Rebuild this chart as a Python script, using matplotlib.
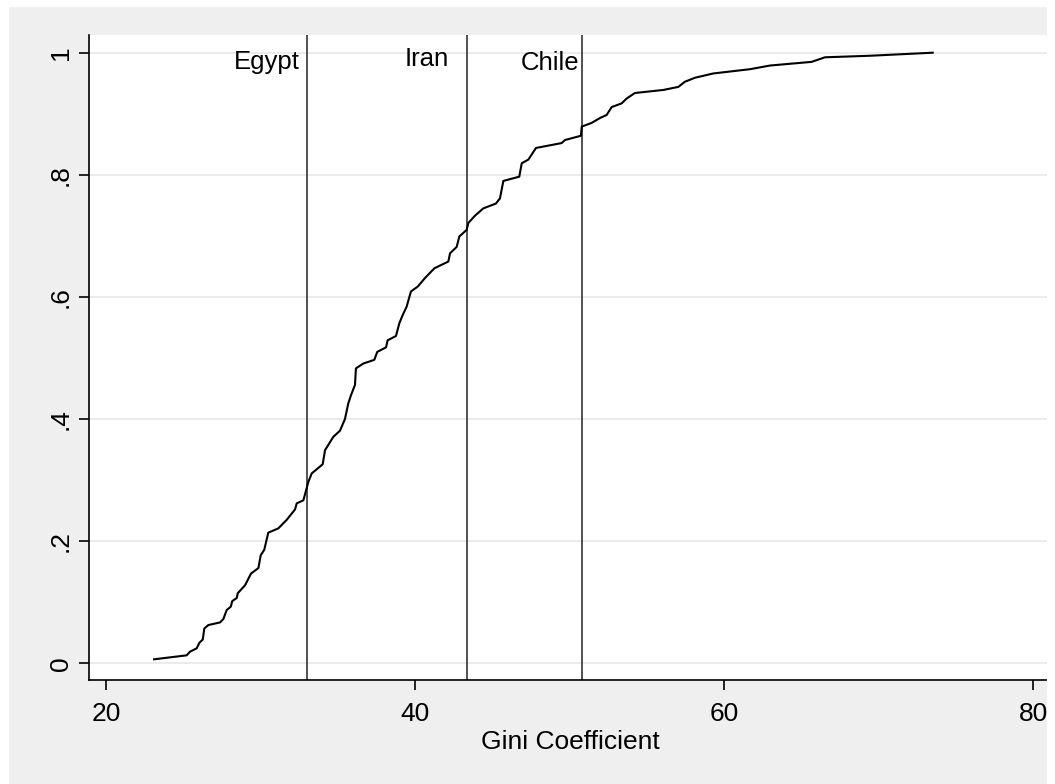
import matplotlib
matplotlib.use("Agg")
import matplotlib.pyplot as plt
from matplotlib.patches import Rectangle

# Empirical cumulative distribution of country Gini coefficients
gini = [23.11, 25.22, 25.43, 25.87, 26.04, 26.26, 26.36, 26.62, 27.38, 27.59,
        27.81, 28.07, 28.17, 28.46, 28.52, 29.00, 29.38, 29.86, 30.01, 30.24,
        30.50, 31.15, 31.69, 32.23, 32.34, 32.77, 32.92, 33.09, 33.31, 34.02,
        34.17, 34.71, 35.14, 35.46, 35.68, 35.85, 36.11, 36.17, 36.65, 37.36,
        37.55, 38.12, 38.22, 38.76, 38.98, 39.19, 39.45, 39.73, 40.17, 40.64,
        41.25, 42.15, 42.26, 42.69, 42.86, 43.34, 43.44, 43.87, 44.41, 45.23,
        45.49, 45.71, 46.74, 46.90, 47.33, 47.82, 49.48, 49.70, 50.73, 50.78,
        51.42, 51.96, 52.39, 52.72, 53.36, 53.69, 54.22, 56.06, 57.03, 57.46,
        58.11, 59.29, 61.67, 62.96, 65.66, 66.52, 69.43, 73.49]
cum_share = [0.0066, 0.0131, 0.019, 0.0246, 0.0337, 0.039, 0.057, 0.0627, 0.067, 0.0725,
             0.0873, 0.0927, 0.102, 0.107, 0.1146, 0.128, 0.147, 0.156, 0.177, 0.186,
             0.214, 0.221, 0.235, 0.252, 0.262, 0.267, 0.281, 0.297, 0.311, 0.326,
             0.349, 0.371, 0.381, 0.400, 0.426, 0.439, 0.456, 0.483, 0.491, 0.497,
             0.510, 0.5175, 0.529, 0.536, 0.557, 0.570, 0.584, 0.609, 0.617, 0.631,
             0.647, 0.658, 0.6715, 0.682, 0.699, 0.710, 0.721, 0.733, 0.745, 0.753,
             0.7615, 0.790, 0.797, 0.819, 0.825, 0.844, 0.852, 0.857, 0.864, 0.879,
             0.885, 0.893, 0.898, 0.911, 0.917, 0.925, 0.934, 0.939, 0.944, 0.9525,
             0.959, 0.966, 0.973, 0.979, 0.985, 0.9925, 0.995, 1.0]

# Reference countries
countries = ["Egypt", "Iran", "Chile"]
country_gini = [33.0, 43.35, 50.8]
label_x = [32.55, 42.2, 50.62]
label_y = [0.9728, 0.978, 0.9717]

x_ticks = [20, 40, 60, 80]
y_ticks = [0, 0.2, 0.4, 0.6, 0.8, 1.0]
y_tick_labels = ["0", ".2", ".4", ".6", ".8", "1"]

plt.rcParams["font.family"] = ["Liberation Sans", "DejaVu Sans"]
FS = 19

W, H = 1055, 784
fig = plt.figure(figsize=(W / 100, H / 100), dpi=100, facecolor="white")

# Grey graph region
fig.patches.append(Rectangle((9 / W, 0), (1047 - 9) / W, (H - 7) / H,
                             transform=fig.transFigure, facecolor="#efefef",
                             edgecolor="none", zorder=-10))

ax = fig.add_axes([88.7 / W, (H - 680) / H, (1047 - 88.7) / W, (680 - 35) / H])
ax.set_facecolor("white")
ax.set_xlim(18.88, 80.886)
ax.set_ylim(-0.0273, 1.029)

ax.grid(axis="y", color="#e6e6e6", linewidth=1.1)
ax.grid(axis="x", visible=False)
ax.set_axisbelow(True)

for s in ["top", "right"]:
    ax.spines[s].set_visible(False)
for s in ["left", "bottom"]:
    ax.spines[s].set_color("black")
    ax.spines[s].set_linewidth(1.2)

ax.set_xticks(x_ticks)
ax.set_xticklabels([str(t) for t in x_ticks])
ax.set_yticks(y_ticks)
ax.set_yticklabels(y_tick_labels, rotation=90, va="center")
ax.tick_params(axis="both", direction="out", length=7.5, width=1.2,
               colors="black", labelsize=FS)
ax.tick_params(axis="x", pad=8)
ax.tick_params(axis="y", pad=4)

ax.plot(gini, cum_share, color="black", linewidth=1.5,
        solid_joinstyle="round", zorder=3)

for name, g, lx, ly in zip(countries, country_gini, label_x, label_y):
    ax.axvline(g, color="#333333", linewidth=1.2, zorder=2)
    ax.text(lx, ly, name, ha="right", va="baseline", fontsize=FS - 0.5,
            color="black", zorder=4)

fig.text(570 / W, (H - 749) / H, "Gini Coefficient", ha="center",
         va="baseline", fontsize=FS, color="black")

# Right edge margin
fig.patches.append(Rectangle((1047 / W, 0), (W - 1047) / W, 1,
                             transform=fig.transFigure, facecolor="white",
                             edgecolor="none", zorder=20))

fig.savefig("out.png", dpi=100, facecolor="white")
